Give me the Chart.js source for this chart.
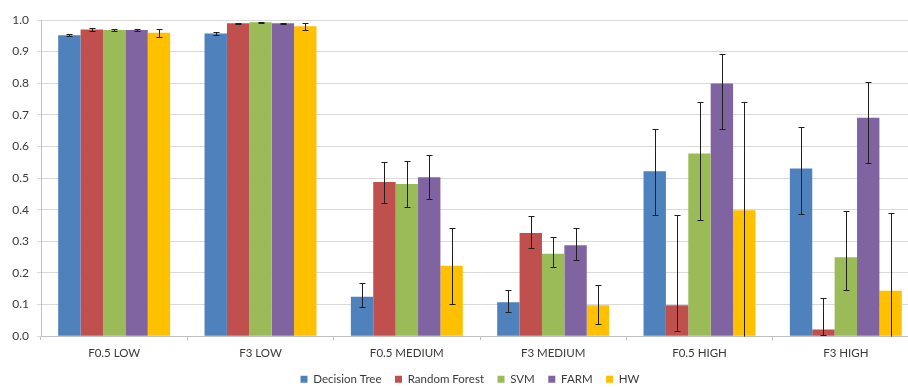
<!DOCTYPE html>
<html>
<head>
<meta charset="utf-8">
<script src="https://cdn.jsdelivr.net/npm/chart.js@4/dist/chart.umd.min.js"></script>
<style>
  html, body { margin: 0; padding: 0; background: #fff; }
  #wrap { width: 908px; height: 387px; overflow: hidden; position: relative; }
  #c { display: block; }
</style>
</head>
<body>
<div id="wrap"><canvas id="c" width="921" height="395"></canvas></div>
<script>
// Scenario categories along the x axis
const categories = ['F0.5 LOW', 'F3 LOW', 'F0.5 MEDIUM', 'F3 MEDIUM', 'F0.5 HIGH', 'F3 HIGH'];

// Mean scores per method
const decisionTree = [0.952, 0.957, 0.125, 0.107, 0.522, 0.530];
const randomForest = [0.970, 0.990, 0.488, 0.326, 0.098, 0.021];
const svm          = [0.968, 0.993, 0.481, 0.261, 0.578, 0.250];
const farm         = [0.968, 0.990, 0.503, 0.288, 0.799, 0.691];
const hw           = [0.960, 0.980, 0.223, 0.098, 0.398, 0.144];

// Error bar extents above / below each mean
const decisionTreeErrUp   = [0.004, 0.004, 0.042, 0.039, 0.133, 0.132];
const decisionTreeErrDown = [0.004, 0.004, 0.034, 0.029, 0.138, 0.142];
const randomForestErrUp   = [0.005, 0.002, 0.063, 0.053, 0.284, 0.101];
const randomForestErrDown = [0.005, 0.002, 0.068, 0.048, 0.081, 0.016];
const svmErrUp            = [0.004, 0.002, 0.073, 0.052, 0.162, 0.145];
const svmErrDown          = [0.004, 0.002, 0.073, 0.043, 0.212, 0.103];
const farmErrUp           = [0.003, 0.002, 0.069, 0.054, 0.095, 0.113];
const farmErrDown         = [0.003, 0.002, 0.070, 0.047, 0.145, 0.142];
const hwErrUp             = [0.013, 0.012, 0.119, 0.064, 0.342, 0.245];
const hwErrDown           = [0.013, 0.012, 0.121, 0.060, 0.398, 0.144];

const yTicks = [0, 0.1, 0.2, 0.3, 0.4, 0.5, 0.6, 0.7, 0.8, 0.9, 1.0];

const FONT = 'Lato, "Open Sans", "Liberation Sans", sans-serif';
const TEXT = '#3a3a3a';

function series(label, data, up, down, color) {
  return {
    label, data, errUp: up, errDown: down,
    backgroundColor: color, borderWidth: 0,
    barPercentage: 1.0, categoryPercentage: 0.765
  };
}

// Draws vertical error bars with caps on every bar
const errorBars = {
  id: 'errorBars',
  afterDatasetsDraw(chart) {
    const ctx = chart.ctx;
    const y = chart.scales.y;
    ctx.save();
    ctx.strokeStyle = '#1f1f1f';
    ctx.lineWidth = 1;
    chart.data.datasets.forEach((ds, di) => {
      const meta = chart.getDatasetMeta(di);
      meta.data.forEach((bar, i) => {
        const v = ds.data[i];
        const hi = v + ds.errUp[i];
        const lo = Math.max(0, v - ds.errDown[i]);
        const x = Math.round(bar.x) + 0.5;
        const yHi = Math.round(y.getPixelForValue(hi)) + 0.5;
        const yLo = Math.round(y.getPixelForValue(lo)) + 0.5;
        const cap = 3;
        ctx.beginPath();
        ctx.moveTo(x, yHi); ctx.lineTo(x, yLo);
        ctx.moveTo(x - cap, yHi); ctx.lineTo(x + cap, yHi);
        if (lo > 0) { ctx.moveTo(x - cap, yLo); ctx.lineTo(x + cap, yLo); }
        ctx.stroke();
      });
    });
    ctx.restore();
  }
};

// Moves the legend so it sits a little left of the plot centre
const legendShift = {
  id: 'legendShift',
  afterLayout(chart) {
    const lg = chart.legend;
    if (!lg) return;
    const mid = (chart.chartArea.left + chart.chartArea.right) / 2 - 10;
    const dx = mid - (lg.left + lg.right) / 2;
    lg.left += dx;
    lg.right += dx;
  }
};

new Chart(document.getElementById('c'), {
  type: 'bar',
  data: {
    labels: categories,
    datasets: [
      series('Decision Tree', decisionTree, decisionTreeErrUp, decisionTreeErrDown, '#4F81BD'),
      series('Random Forest', randomForest, randomForestErrUp, randomForestErrDown, '#C0504D'),
      series('SVM', svm, svmErrUp, svmErrDown, '#9BBB59'),
      series('FARM', farm, farmErrUp, farmErrDown, '#8064A2'),
      series('HW', hw, hwErrUp, hwErrDown, '#FFC000')
    ]
  },
  options: {
    responsive: false,
    animation: false,
    layout: { padding: { top: 20, right: 2, left: 0, bottom: 0 } },
    plugins: {
      tooltip: { enabled: false },
      legend: {
        position: 'bottom',
        labels: {
          boxWidth: 7, boxHeight: 7, padding: 13.5,
          color: TEXT, font: { family: FONT, size: 11.5 }
        }
      }
    },
    scales: {
      x: {
        grid: { display: true, drawOnChartArea: false, offset: true, tickLength: 4, color: '#bfbfbf' },
        border: { color: '#bfbfbf' },
        ticks: { color: TEXT, font: { family: FONT, size: 11.5 }, padding: 6, maxRotation: 0 },
        afterFit: s => { s.height = s.height - 6; }
      },
      y: {
        min: 0, max: 1,
        afterBuildTicks: s => { s.ticks = yTicks.map(v => ({ value: v })); },
        afterFit: s => { s.width = 41; },
        grid: { color: '#d9d9d9', tickLength: 4 },
        border: { color: '#bfbfbf' },
        ticks: {
          color: TEXT, font: { family: FONT, size: 12 }, padding: 8,
          callback: v => Number(v).toFixed(1)
        }
      }
    }
  },
  plugins: [errorBars, legendShift]
});
</script>
</body>
</html>
